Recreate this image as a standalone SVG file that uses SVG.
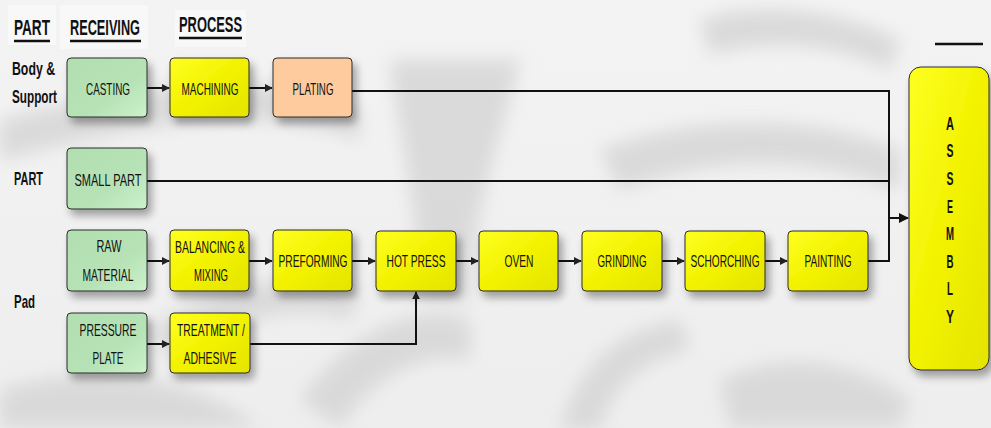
<svg xmlns="http://www.w3.org/2000/svg" width="991" height="428" viewBox="0 0 991 428">
  <defs>
    <filter id="soft" x="-20%" y="-20%" width="140%" height="140%">
      <feGaussianBlur stdDeviation="9"/>
    </filter>
    <filter id="shadow" x="-20%" y="-20%" width="150%" height="160%">
      <feGaussianBlur in="SourceAlpha" stdDeviation="4"/>
      <feOffset dx="4" dy="6" result="b"/>
      <feComponentTransfer><feFuncA type="linear" slope="0.35"/></feComponentTransfer>
      <feMerge><feMergeNode/><feMergeNode in="SourceGraphic"/></feMerge>
    </filter>
    <linearGradient id="green" x1="0" y1="0" x2="1" y2="1">
      <stop offset="0" stop-color="#b2dfb2"/>
      <stop offset="0.6" stop-color="#b6e2b6"/>
      <stop offset="1" stop-color="#ccf2cc"/>
    </linearGradient>
    <linearGradient id="yellow" x1="0" y1="0" x2="1" y2="1">
      <stop offset="0" stop-color="#ffff22"/>
      <stop offset="0.5" stop-color="#f2f200"/>
      <stop offset="1" stop-color="#e4e400"/>
    </linearGradient>
    <linearGradient id="bg" x1="0" y1="0" x2="0" y2="1">
      <stop offset="0" stop-color="#f3f3f3"/>
      <stop offset="1" stop-color="#eeeeee"/>
    </linearGradient>
    <marker id="arrow" viewBox="0 0 10 10" refX="9" refY="5" markerWidth="8" markerHeight="8" markerUnits="userSpaceOnUse" orient="auto">
      <path d="M0,0 L10,5 L0,10 z" fill="#222"/>
    </marker>
    <marker id="arrowL" viewBox="0 0 10 10" refX="9" refY="5" markerWidth="10" markerHeight="10" markerUnits="userSpaceOnUse" orient="auto">
      <path d="M0,0 L10,5 L0,10 z" fill="#111"/>
    </marker>
  </defs>
  <style>
    .box { stroke: #2a2a2a; stroke-width: 1; filter: url(#shadow); }
    .g { fill: url(#green); }
    .y { fill: url(#yellow); }
    .p { fill: #fdcb9e; }
    .t { font-family: "Liberation Sans", Arial, sans-serif; font-size: 17px; fill: #111; text-anchor: middle; }
    .h { font-family: "Liberation Sans", Arial, sans-serif; font-size: 22px; font-weight: bold; fill: #111; }
    .side { font-family: "Liberation Sans", Arial, sans-serif; font-size: 19px; font-weight: bold; fill: #111; }
    .ln { fill: none; stroke: #111; stroke-width: 2; }
    .ul { stroke: #111; stroke-width: 2.5; }
    .hdr { fill: #f8f8f8; }
    .as { font-family: "Liberation Sans", Arial, sans-serif; font-size: 19px; font-weight: bold; fill: #111; text-anchor: middle; }
  </style>

  <!-- backdrop with soft grey emblem swirls -->
  <rect x="0" y="0" width="991" height="428" fill="url(#bg)"/>
  <g fill="#d6d6d6" filter="url(#soft)" opacity="0.85">
    <path d="M0,120 C120,90 260,60 360,110 L360,140 C250,100 120,130 0,160 z"/>
    <path d="M390,60 C400,140 420,220 420,300 L470,300 C470,220 500,140 520,60 z"/>
    <path d="M300,400 C350,330 420,300 470,320 L470,360 C420,350 370,380 340,428 z"/>
    <path d="M560,430 C580,360 620,330 680,320 L690,350 C640,360 610,390 600,430 z"/>
    <path d="M600,150 C680,120 800,110 900,150 L900,190 C800,150 700,160 620,190 z"/>
    <path d="M150,330 C220,280 300,270 360,290 L350,320 C290,300 230,320 170,360 z"/>
    <path d="M700,20 C760,0 840,10 900,40 L890,70 C830,40 760,40 710,55 z"/>
    <path d="M0,390 C100,360 200,380 260,428 L0,428 z"/>
    <path d="M720,380 C780,350 860,360 910,400 L900,428 L730,428 z"/>
  </g>

  <!-- column headings and row labels -->
  <g id="headings">
    <rect class="hdr" x="8" y="5" width="48" height="40"/>
    <rect class="hdr" x="60" y="5" width="88" height="44"/>
    <rect class="hdr" x="175" y="10" width="71" height="37"/>
    <text class="h" x="14" y="35" textLength="36" lengthAdjust="spacingAndGlyphs">PART</text>
    <line class="ul" x1="14" y1="41" x2="50" y2="41"/>
    <text class="h" x="70" y="35" textLength="70" lengthAdjust="spacingAndGlyphs">RECEIVING</text>
    <line class="ul" x1="70" y1="41" x2="141" y2="41"/>
    <text class="h" x="179" y="32" textLength="63" lengthAdjust="spacingAndGlyphs">PROCESS</text>
    <line class="ul" x1="179" y1="38" x2="242" y2="38"/>
    <text class="side" x="12" y="75" textLength="43" lengthAdjust="spacingAndGlyphs">Body &amp;</text>
    <text class="side" x="12" y="103" textLength="45" lengthAdjust="spacingAndGlyphs">Support</text>
    <text class="side" x="14" y="185" textLength="29" lengthAdjust="spacingAndGlyphs">PART</text>
    <text class="side" x="14" y="308" textLength="21" lengthAdjust="spacingAndGlyphs">Pad</text>
    <line class="ul" x1="935" y1="44" x2="983" y2="44"/>
  </g>

  <!-- connectors -->
  <g id="connectors">
    <line class="ln" x1="147" y1="88" x2="169" y2="88" marker-end="url(#arrow)"/>
    <line class="ln" x1="249" y1="88" x2="272" y2="88" marker-end="url(#arrow)"/>
    <polyline class="ln" points="352,91 889,91 889,261 868,261"/>
    <line class="ln" x1="147" y1="181" x2="889" y2="181"/>
    <line class="ln" x1="889" y1="218" x2="908" y2="218" marker-end="url(#arrowL)"/>
    <line class="ln" x1="147" y1="261" x2="169" y2="261" marker-end="url(#arrow)"/>
    <line class="ln" x1="249" y1="261" x2="272" y2="261" marker-end="url(#arrow)"/>
    <line class="ln" x1="352" y1="261" x2="375" y2="261" marker-end="url(#arrow)"/>
    <line class="ln" x1="456" y1="261" x2="478" y2="261" marker-end="url(#arrow)"/>
    <line class="ln" x1="558" y1="261" x2="581" y2="261" marker-end="url(#arrow)"/>
    <line class="ln" x1="662" y1="261" x2="684" y2="261" marker-end="url(#arrow)"/>
    <line class="ln" x1="765" y1="261" x2="787" y2="261" marker-end="url(#arrow)"/>
    <line class="ln" x1="147" y1="344" x2="169" y2="344" marker-end="url(#arrow)"/>
    <polyline class="ln" points="250,344 416,344 416,292" marker-end="url(#arrow)"/>
  </g>

  <!-- receiving nodes -->
  <g id="casting">
    <rect class="box g" x="67" y="58" width="80" height="59" rx="4"/>
    <text class="t" x="108" y="95" textLength="44" lengthAdjust="spacingAndGlyphs">CASTING</text>
  </g>
  <g id="small-part">
    <rect class="box g" x="67" y="148" width="80" height="61" rx="4"/>
    <text class="t" x="108" y="186" textLength="67" lengthAdjust="spacingAndGlyphs">SMALL PART</text>
  </g>
  <g id="raw-material">
    <rect class="box g" x="67" y="230" width="80" height="61" rx="4"/>
    <text class="t" x="109" y="252" textLength="25" lengthAdjust="spacingAndGlyphs">RAW</text>
    <text class="t" x="108" y="281" textLength="51" lengthAdjust="spacingAndGlyphs">MATERIAL</text>
  </g>
  <g id="pressure-plate">
    <rect class="box g" x="67" y="313" width="80" height="60" rx="4"/>
    <text class="t" x="108" y="336" textLength="57" lengthAdjust="spacingAndGlyphs">PRESSURE</text>
    <text class="t" x="108" y="364" textLength="31" lengthAdjust="spacingAndGlyphs">PLATE</text>
  </g>

  <!-- process nodes -->
  <g id="machining">
    <rect class="box y" x="170" y="58" width="79" height="59" rx="4"/>
    <text class="t" x="210" y="95" textLength="57" lengthAdjust="spacingAndGlyphs">MACHINING</text>
  </g>
  <g id="plating">
    <rect class="box p" x="273" y="58" width="79" height="59" rx="4"/>
    <text class="t" x="313" y="95" textLength="41" lengthAdjust="spacingAndGlyphs">PLATING</text>
  </g>
  <g id="balancing-mixing">
    <rect class="box y" x="170" y="230" width="79" height="61" rx="4"/>
    <text class="t" x="210" y="253" textLength="70" lengthAdjust="spacingAndGlyphs">BALANCING &amp;</text>
    <text class="t" x="211" y="281" textLength="34" lengthAdjust="spacingAndGlyphs">MIXING</text>
  </g>
  <g id="preforming">
    <rect class="box y" x="273" y="230" width="79" height="61" rx="4"/>
    <text class="t" x="313" y="267" textLength="69" lengthAdjust="spacingAndGlyphs">PREFORMING</text>
  </g>
  <g id="hot-press">
    <rect class="box y" x="376" y="231" width="80" height="60" rx="4"/>
    <text class="t" x="416" y="267" textLength="59" lengthAdjust="spacingAndGlyphs">HOT PRESS</text>
  </g>
  <g id="oven">
    <rect class="box y" x="479" y="231" width="79" height="60" rx="4"/>
    <text class="t" x="519" y="267" textLength="29" lengthAdjust="spacingAndGlyphs">OVEN</text>
  </g>
  <g id="grinding">
    <rect class="box y" x="582" y="231" width="80" height="60" rx="4"/>
    <text class="t" x="622" y="267" textLength="49" lengthAdjust="spacingAndGlyphs">GRINDING</text>
  </g>
  <g id="schorching">
    <rect class="box y" x="685" y="231" width="80" height="60" rx="4"/>
    <text class="t" x="725" y="267" textLength="69" lengthAdjust="spacingAndGlyphs">SCHORCHING</text>
  </g>
  <g id="painting">
    <rect class="box y" x="788" y="231" width="80" height="60" rx="4"/>
    <text class="t" x="828" y="267" textLength="47" lengthAdjust="spacingAndGlyphs">PAINTING</text>
  </g>
  <g id="treatment-adhesive">
    <rect class="box y" x="170" y="313" width="80" height="60" rx="4"/>
    <text class="t" x="211" y="336" textLength="68" lengthAdjust="spacingAndGlyphs">TREATMENT /</text>
    <text class="t" x="210" y="364" textLength="53" lengthAdjust="spacingAndGlyphs">ADHESIVE</text>
  </g>

  <!-- assembly -->
  <g id="assembly">
    <rect class="box y" x="909" y="67" width="80" height="303" rx="12"/>
    <text class="as" x="950" y="130" textLength="8" lengthAdjust="spacingAndGlyphs">A</text>
    <text class="as" x="950" y="157" textLength="7" lengthAdjust="spacingAndGlyphs">S</text>
    <text class="as" x="950" y="185" textLength="7" lengthAdjust="spacingAndGlyphs">S</text>
    <text class="as" x="950" y="213" textLength="6" lengthAdjust="spacingAndGlyphs">E</text>
    <text class="as" x="950" y="240" textLength="8" lengthAdjust="spacingAndGlyphs">M</text>
    <text class="as" x="950" y="268" textLength="7" lengthAdjust="spacingAndGlyphs">B</text>
    <text class="as" x="950" y="295" textLength="6" lengthAdjust="spacingAndGlyphs">L</text>
    <text class="as" x="950" y="323" textLength="8" lengthAdjust="spacingAndGlyphs">Y</text>
  </g>
</svg>
